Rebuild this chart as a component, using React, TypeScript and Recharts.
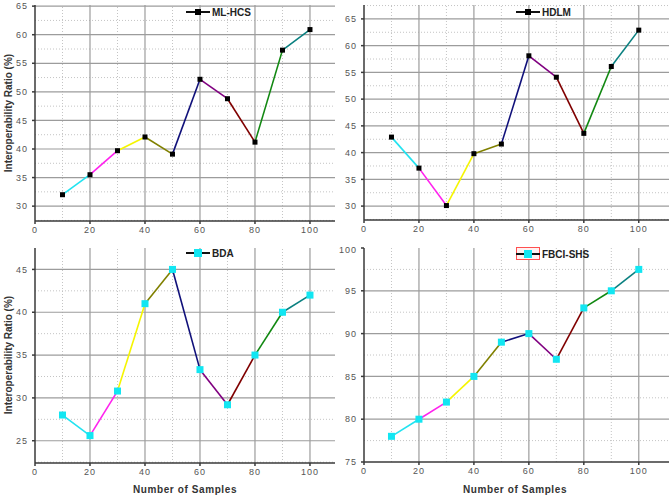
import { LineChart, Line, XAxis, YAxis, ReferenceLine } from 'recharts';

// MARK: - Data

const samples = [10, 20, 30, 40, 50, 60, 70, 80, 90, 100];
const mlHcs = [32, 35.5, 39.7, 42.1, 39.1, 52.2, 48.8, 41.2, 57.3, 60.9];
const hdlm = [42.9, 37.1, 30.1, 39.8, 41.6, 58.1, 54.1, 43.6, 56.1, 62.9];
const bda = [28, 25.6, 30.8, 41, 45, 33.3, 29.2, 35, 40, 42];
const fbciShs = [78, 80, 82, 85, 89, 90, 87, 93, 95, 97.5];

const xTicks = [0, 20, 40, 60, 80, 100];
const xMinor = [10, 30, 50, 70, 90];
const yTicksTop = [30, 35, 40, 45, 50, 55, 60, 65];
const yTicksBda = [25, 30, 35, 40, 45];
const yTicksFbci = [75, 80, 85, 90, 95, 100];

// one colour per segment (10-20, 20-30, ...)
const segColors = ['#22e3f0', '#ff22ee', '#f5f500', '#808000', '#10107a', '#800080', '#800000', '#118811', '#0a8080'];

const FONT = '"Liberation Sans", Arial, sans-serif';
const MAJOR = '#9c9c9c';
const MINOR = '#c4c4c4';
const AXIS = '#3a3a3a';

type PanelProps = {
    left: number;
    top: number;
    width: number;
    height: number;
    margin: { top: number; right: number; bottom: number; left: number };
    yWidth: number;
    values: number[];
    yDomain: [number, number];
    yTicks: number[];
    xMax: number;
    marker: string;
    markerSize: number;
};

const Panel = ({ left, top, width, height, margin, yWidth, values, yDomain, yTicks, xMax, marker, markerSize }: PanelProps) => {
    // rows with one key per segment, so each segment gets its own colour
    const data = samples.map((x, i) => {
        const row: Record<string, number | null> = { x, v: values[i] };
        segColors.forEach((_, j) => {
            row[`s${j}`] = i === j || i === j + 1 ? values[i] : null;
        });
        return row;
    });

    const step = yTicks[1] - yTicks[0];
    const yMinor = [yTicks[0] - step / 2, ...yTicks.map((t) => t + step / 2)].filter(
        (t) => t > yDomain[0] && t < yDomain[1]
    );

    const Square = (props: any) => {
        const { cx, cy, index } = props;
        if (cx == null || cy == null) return <g key={index} />;
        return (
            <rect
                key={index}
                x={cx - markerSize / 2}
                y={cy - markerSize / 2}
                width={markerSize}
                height={markerSize}
                fill={marker}
            />
        );
    };

    const tickStyle = { fontSize: 9, fill: '#555', fontFamily: FONT, letterSpacing: 1 };

    return (
        <div style={{ position: 'absolute', left, top }}>
            <LineChart width={width} height={height} data={data} margin={margin}>
                <XAxis
                    type="number"
                    dataKey="x"
                    domain={[0, xMax]}
                    ticks={xTicks}
                    allowDataOverflow
                    height={20}
                    tick={tickStyle}
                    tickSize={3}
                    tickMargin={3}
                    stroke={AXIS}
                    strokeWidth={1.5}
                />
                <YAxis
                    type="number"
                    domain={yDomain}
                    ticks={yTicks}
                    allowDataOverflow
                    width={yWidth}
                    tick={tickStyle}
                    tickSize={3}
                    tickMargin={4}
                    stroke={AXIS}
                    strokeWidth={1.5}
                />

                {/* Grid */}
                {xMinor.map((x) => (
                    <ReferenceLine key={`xm${x}`} x={x} stroke={MINOR} strokeDasharray="1 2" />
                ))}
                {yMinor.map((y) => (
                    <ReferenceLine key={`ym${y}`} y={y} stroke={MINOR} strokeDasharray="1 2" />
                ))}
                {xTicks.filter((x) => x > 0).map((x) => (
                    <ReferenceLine key={`x${x}`} x={x} stroke={MAJOR} strokeWidth={1.2} />
                ))}
                {yTicks.filter((y) => y > yDomain[0] && y < yDomain[1]).map((y) => (
                    <ReferenceLine key={`y${y}`} y={y} stroke={MAJOR} strokeWidth={1.2} />
                ))}

                {/* Coloured segments */}
                {segColors.map((c, j) => (
                    <Line
                        key={`s${j}`}
                        type="linear"
                        dataKey={`s${j}`}
                        stroke={c}
                        strokeWidth={1.6}
                        dot={false}
                        activeDot={false}
                        connectNulls={false}
                        isAnimationActive={false}
                    />
                ))}

                {/* Markers */}
                <Line
                    type="linear"
                    dataKey="v"
                    stroke="none"
                    dot={Square}
                    activeDot={false}
                    isAnimationActive={false}
                />
            </LineChart>
        </div>
    );
};

const LegendItem = ({ left, top, name, marker, size, boxed }: { left: number; top: number; name: string; marker: string; size: number; boxed?: boolean }) => (
    <div style={{ position: 'absolute', left, top, display: 'flex', alignItems: 'center', height: 14 }}>
        <svg width={25} height={14} style={{ display: 'block' }}>
            {boxed && <rect x={0.5} y={0.5} width={23} height={12} fill="#fff2f2" stroke="#ff5050" strokeWidth={1} />}
            <line x1={0} y1={7} x2={24} y2={7} stroke="#111" strokeWidth={2} />
            <rect x={12 - size / 2} y={7 - size / 2} width={size} height={size} fill={marker} />
        </svg>
        <span style={{ fontFamily: FONT, fontWeight: 'bold', fontSize: 10, color: '#222', marginLeft: 1 }}>{name}</span>
    </div>
);

const yTitleStyle = (cy: number): React.CSSProperties => ({
    position: 'absolute',
    left: 8,
    top: cy,
    transform: 'translate(-50%, -50%) rotate(-90deg)',
    whiteSpace: 'nowrap',
    fontFamily: FONT,
    fontWeight: 'bold',
    fontSize: 10,
    color: '#333',
});

const xTitleStyle = (cx: number): React.CSSProperties => ({
    position: 'absolute',
    left: cx,
    top: 489,
    transform: 'translate(-50%, -50%)',
    whiteSpace: 'nowrap',
    fontFamily: FONT,
    fontWeight: 'bold',
    fontSize: 10,
    color: '#333',
    letterSpacing: 0.6,
});

export default function App() {
    const cyan = '#12e6f2';
    return (
        <div style={{ position: 'fixed', left: 0, top: 0, width: 669, height: 496, background: '#fff', overflow: 'hidden' }}>
            <Panel
                left={0} top={0} width={335} height={250}
                margin={{ top: 5, right: 0, bottom: 9, left: 5 }} yWidth={30}
                values={mlHcs} yDomain={[27.4, 65.2]} yTicks={yTicksTop} xMax={109.1}
                marker="#000" markerSize={5}
            />
            <Panel
                left={335} top={0} width={334} height={250}
                margin={{ top: 5, right: 0, bottom: 10, left: 0 }} yWidth={29}
                values={hdlm} yDomain={[27.4, 67.6]} yTicks={yTicksTop} xMax={111}
                marker="#000" markerSize={5}
            />
            <Panel
                left={0} top={245} width={335} height={251}
                margin={{ top: 3, right: 0, bottom: 13, left: 5 }} yWidth={30}
                values={bda} yDomain={[22.4, 47.5]} yTicks={yTicksBda} xMax={109.1}
                marker={cyan} markerSize={7}
            />
            <Panel
                left={335} top={245} width={334} height={251}
                margin={{ top: 3, right: 0, bottom: 14, left: 0 }} yWidth={29}
                values={fbciShs} yDomain={[75, 100]} yTicks={yTicksFbci} xMax={111}
                marker={cyan} markerSize={7}
            />

            <LegendItem left={186} top={5} name="ML-HCS" marker="#000" size={6} />
            <LegendItem left={516} top={5} name="HDLM" marker="#000" size={6} />
            <LegendItem left={186} top={246} name="BDA" marker={cyan} size={8} />
            <LegendItem left={516} top={247} name="FBCI-SHS" marker={cyan} size={8} boxed />

            <div style={yTitleStyle(113)}>Interoperability Ratio (%)</div>
            <div style={yTitleStyle(355)}>Interoperability Ratio (%)</div>
            <div style={xTitleStyle(185)}>Number of Samples</div>
            <div style={xTitleStyle(515)}>Number of Samples</div>
        </div>
    );
}
